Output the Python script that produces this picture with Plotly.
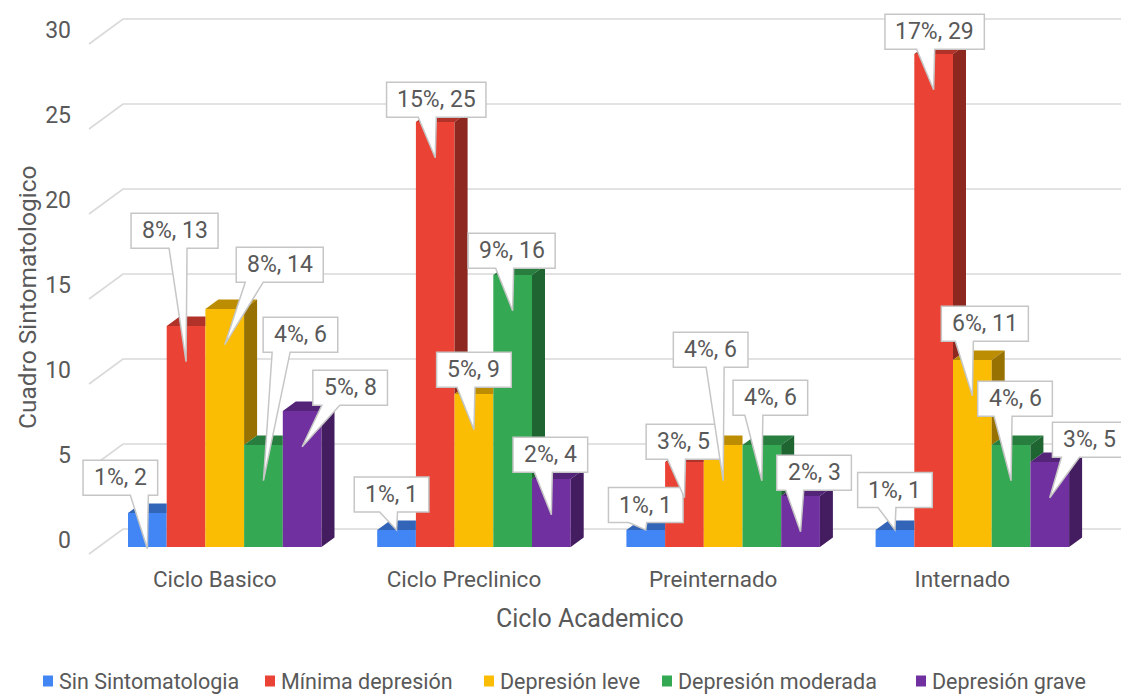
import plotly.graph_objects as go

# ---------------- data ----------------
categories = ["Ciclo Basico", "Ciclo Preclinico", "Preinternado", "Internado"]
series_names = ["Sin Sintomatologia", "Mínima depresión", "Depresión leve",
                "Depresión moderada", "Depresión grave"]
sin_sintomatologia = [2, 1, 1, 1]
minima_depresion = [13, 25, 5, 29]
depresion_leve = [14, 9, 6, 11]
depresion_moderada = [6, 16, 6, 6]
depresion_grave = [8, 4, 3, 5]
pct_sin_sintomatologia = [1, 1, 1, 1]
pct_minima_depresion = [8, 15, 3, 17]
pct_depresion_leve = [8, 5, 4, 6]
pct_depresion_moderada = [4, 9, 4, 4]
pct_depresion_grave = [5, 2, 2, 3]
y_ticks = [0, 5, 10, 15, 20, 25, 30]
x_title = "Ciclo Academico"
y_title = "Cuadro Sintomatologico"

series_values = [sin_sintomatologia, minima_depresion, depresion_leve,
                 depresion_moderada, depresion_grave]
series_pcts = [pct_sin_sintomatologia, pct_minima_depresion, pct_depresion_leve,
               pct_depresion_moderada, pct_depresion_grave]

# ---------------- style / layout ----------------
front_colors = ["#4285F4", "#EA4335", "#FBBC04", "#34A853", "#7030A0"]
TEXT_COLOR = "#595959"
GRID_COLOR = "#d9d9d9"
FONT = "Roboto, Arial, sans-serif"


def shade(hexcol, f):
    h = hexcol.lstrip("#")
    r, g, b = (int(h[i:i + 2], 16) for i in (0, 2, 4))
    return "rgb(%d,%d,%d)" % (round(r * f), round(g * f), round(b * f))


W, H = 1121, 696
ML, MR, MT, MB = 80, 0, 0, 138
PW = W - ML - MR
PH = H - MT - MB
X_RANGE = [-0.58086, 3.5965]
Y_RANGE = [-0.6471, 32.1765]
SX = PW / (X_RANGE[1] - X_RANGE[0])   # px per x unit
SY = PH / (Y_RANGE[1] - Y_RANGE[0])   # px per y unit

GROUP_FRAC = 0.7765
NS = len(series_names)
BAR_W = GROUP_FRAC / NS
DEPTH_DX = 13 / SX
DEPTH_DY = 9.5 / SY
FRONT_DY = 7 / SY
BACK_DY = 18 / SY
GRID_FRONT_X = X_RANGE[0] + (89 - ML) / SX
GRID_BACK_X = X_RANGE[0] + (123 - ML) / SX

# callout box offsets from the pointer tip (screen px, dx right, dy down)
CALLOUT_OFFSETS = [
    [(-27, -71), (-5, -35.5), (0, -25), (0, -40)],
    [(-11.5, -131), (1, -58), (-1, -56), (1, -58)],
    [(55, -80), (0, -60), (-12.5, -131), (12.5, -72)],
    [(37, -146), (-1, -60), (8.5, -83), (4, -82)],
    [(48, -59), (-1, -60), (13.5, -59), (40, -58)],
]
CALLOUT_TIP_DROP = [
    [2.1, 0, 0, 0],
    [2.1, 2.1, 2.1, 2.1],
    [2.1, 2.1, 2.1, 2.1],
    [2.1, 2.1, 2.1, 2.1],
    [2.1, 2.1, 2.1, 2.1],
]
CALLOUT_FONT = 23
CALLOUT_BOX_FONT = 22
CALLOUT_H = 35
CHAR_W = {"%": 0.733, ",": 0.197, " ": 0.248}


def text_w(t, size):
    return sum(CHAR_W.get(c, 0.562) for c in t) * size


LEGEND_MARKER_PX = [43, 265, 484, 662, 916]
LEGEND_Y_PX = 681


def paper_x(px):
    return (px - ML) / PW


def paper_y(py):
    return (H - MB - py) / PH


fig = go.Figure()
shapes = []
annotations = []

# back-wall gridlines with perspective
for v in y_ticks:
    path = "M %f,%f L %f,%f L %f,%f" % (GRID_FRONT_X, v - FRONT_DY,
                                       GRID_BACK_X, v + BACK_DY,
                                       X_RANGE[1], v + BACK_DY)
    shapes.append(dict(type="path", path=path, xref="x", yref="y",
                       line=dict(color=GRID_COLOR, width=1.6), layer="below"))

# front faces of the bars
xs = list(range(len(categories)))
for s in range(NS):
    fig.add_trace(go.Bar(x=xs, y=series_values[s], name=series_names[s],
                         marker=dict(color=front_colors[s], line=dict(width=0)),
                         showlegend=False, hoverinfo="name+y"))

# top and side faces
for s in range(NS):
    tx, ty, sx_, sy_ = [], [], [], []
    for g in range(len(categories)):
        L = g - GROUP_FRAC / 2 + s * BAR_W
        R = L + BAR_W
        h = series_values[s][g]
        h_next = series_values[s + 1][g] if s < NS - 1 else 0
        if s < NS - 1 and h_next >= h:
            pts = [(L, h), (L + DEPTH_DX, h + DEPTH_DY), (R, h + DEPTH_DY), (R, h)]
        else:
            pts = [(L, h), (L + DEPTH_DX, h + DEPTH_DY),
                   (R + DEPTH_DX, h + DEPTH_DY), (R, h)]
            lo = max(h_next, 0) if s < NS - 1 else 0
            side = [(R, lo), (R + DEPTH_DX, lo + DEPTH_DY),
                    (R + DEPTH_DX, h + DEPTH_DY), (R, h)]
            for p in side:
                sx_.append(p[0]); sy_.append(p[1])
            sx_.append(None); sy_.append(None)
        for p in pts:
            tx.append(p[0]); ty.append(p[1])
        tx.append(None); ty.append(None)
    fig.add_trace(go.Scatter(x=tx, y=ty, mode="lines", fill="toself",
                             fillcolor=shade(front_colors[s], 0.75),
                             line=dict(width=0), hoverinfo="skip", showlegend=False))
    if sx_:
        fig.add_trace(go.Scatter(x=sx_, y=sy_, mode="lines", fill="toself",
                                 fillcolor=shade(front_colors[s], 0.6),
                                 line=dict(width=0), hoverinfo="skip", showlegend=False))

# callouts
for s in range(NS):
    for g in range(len(categories)):
        v = series_values[s][g]
        label = "%d%%, %d" % (series_pcts[s][g], v)
        L = g - GROUP_FRAC / 2 + s * BAR_W
        tip_x = L + BAR_W / 2
        tip_y = v - CALLOUT_TIP_DROP[s][g]
        dx, dy = CALLOUT_OFFSETS[s][g]
        cx = tip_x + dx / SX
        cy = tip_y - dy / SY
        hw = (text_w(label, CALLOUT_BOX_FONT) + 24) / 2 / SX
        hh = CALLOUT_H / 2 / SY
        bx = min(max(tip_x - 8 / SX, cx - hw + 18 / SX), cx + hw - 18 / SX)
        bhw = 9 / SX
        pts = [(cx - hw, cy + hh), (cx + hw, cy + hh), (cx + hw, cy - hh),
               (bx + bhw, cy - hh), (tip_x, tip_y), (bx - bhw, cy - hh),
               (cx - hw, cy - hh)]
        path = "M " + " L ".join("%f,%f" % p for p in pts) + " Z"
        shapes.append(dict(type="path", path=path, xref="x", yref="y",
                           fillcolor="white",
                           line=dict(color="#c6c6c6", width=1.5), layer="above"))
        annotations.append(dict(x=cx, y=cy, xref="x", yref="y", text=label,
                                showarrow=False, xanchor="center", yanchor="middle",
                                font=dict(family=FONT, size=CALLOUT_FONT, color=TEXT_COLOR)))

# axis titles
annotations.append(dict(x=paper_x(590), y=paper_y(618), xref="paper", yref="paper",
                        text=x_title, showarrow=False, xanchor="center", yanchor="middle",
                        font=dict(family=FONT, size=25, color=TEXT_COLOR)))
annotations.append(dict(x=paper_x(27), y=paper_y(297), xref="paper", yref="paper",
                        text=y_title, showarrow=False, textangle=-90,
                        xanchor="center", yanchor="middle",
                        font=dict(family=FONT, size=24.5, color=TEXT_COLOR)))

# legend (markers + labels)
for s in range(NS):
    mx = LEGEND_MARKER_PX[s]
    shapes.append(dict(type="rect", xref="paper", yref="paper",
                       x0=paper_x(mx), x1=paper_x(mx + 10),
                       y0=paper_y(LEGEND_Y_PX + 5.5), y1=paper_y(LEGEND_Y_PX - 5.5),
                       fillcolor=front_colors[s], line=dict(width=0)))
    annotations.append(dict(x=paper_x(mx + 15), y=paper_y(LEGEND_Y_PX), xref="paper",
                            yref="paper", text=series_names[s], showarrow=False,
                            xanchor="left", yanchor="middle", borderpad=0,
                            font=dict(family=FONT, size=21.5, color=TEXT_COLOR)))

fig.update_layout(
    width=W, height=H,
    margin=dict(l=ML, r=MR, t=MT, b=MB, pad=0),
    barmode="group", bargap=1 - GROUP_FRAC, bargroupgap=0,
    plot_bgcolor="white", paper_bgcolor="white",
    showlegend=False,
    font=dict(family=FONT, color=TEXT_COLOR),
    shapes=shapes, annotations=annotations,
    xaxis=dict(range=X_RANGE, tickmode="array", tickvals=xs, ticktext=categories,
               showgrid=False, zeroline=False, showline=False, ticks="",
               ticklabelshift=-10, ticklabelstandoff=5,
               tickfont=dict(family=FONT, size=22.5, color=TEXT_COLOR)),
    yaxis=dict(range=Y_RANGE, tickmode="array", tickvals=y_ticks,
               showgrid=False, zeroline=False, showline=False, ticks="",
               ticklabelshift=-7, ticklabelstandoff=8,
               tickfont=dict(family=FONT, size=23, color=TEXT_COLOR)),
)

fig.write_html("out.html", config={"displayModeBar": False},
               post_script="document.body.style.margin='0px';")
